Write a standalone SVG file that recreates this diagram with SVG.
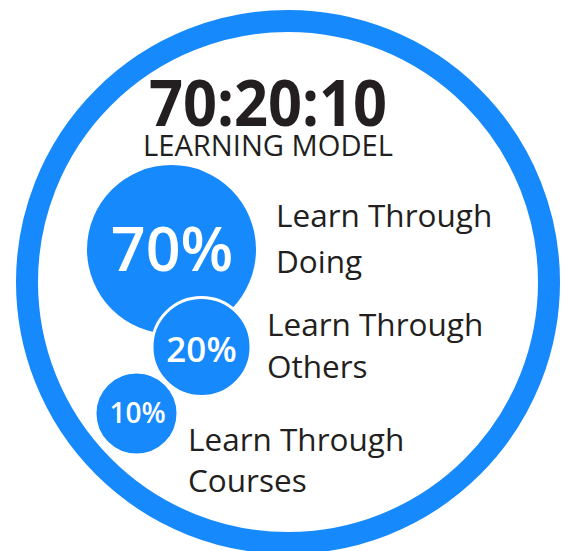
<svg xmlns="http://www.w3.org/2000/svg" width="566" height="551" viewBox="0 0 566 551">
<style>
.lbl{font-family:"Open Sans","Noto Sans",sans-serif;font-size:31.5px;fill:#231f20}
.pct{font-family:"Open Sans","Noto Sans",sans-serif;fill:#ffffff;text-anchor:middle;font-weight:600}
.blob{fill:#1689fc}
</style>
<rect width="566" height="551" fill="#ffffff"/>
<circle cx="288" cy="282" r="261" fill="none" stroke="#1689fc" stroke-width="22"/>
<g id="title">
<text x="268" y="126" text-anchor="middle" font-family="Open Sans, Noto Sans, sans-serif" font-weight="700" font-size="64" textLength="238" lengthAdjust="spacingAndGlyphs" fill="#231f20">70:20:10</text>
<text x="268" y="156" text-anchor="middle" font-family="Open Sans, Noto Sans, sans-serif" font-weight="400" font-size="30" textLength="250" lengthAdjust="spacingAndGlyphs" fill="#231f20">LEARNING MODEL</text>
</g>
<g id="n70">
<circle class="blob" cx="171.5" cy="249.5" r="84.5"/>
<text class="pct" x="172" y="271" font-size="61">70%</text>
<text class="lbl" x="276" y="227">Learn Through</text>
<text class="lbl" x="276" y="273">Doing</text>
</g>
<g id="n20">
<circle class="blob" cx="201.5" cy="347" r="49.5" stroke="#ffffff" stroke-width="3"/>
<text class="pct" x="201.5" y="362" font-size="35">20%</text>
<text class="lbl" x="267" y="336">Learn Through</text>
<text class="lbl" x="267" y="378">Others</text>
</g>
<g id="n10">
<circle class="blob" cx="136.5" cy="413.5" r="41.5" stroke="#ffffff" stroke-width="3"/>
<text class="pct" x="137.5" y="423" font-size="28">10%</text>
<text class="lbl" x="188" y="451">Learn Through</text>
<text class="lbl" x="188" y="492">Courses</text>
</g>
<g id="connectors"/>
</svg>
